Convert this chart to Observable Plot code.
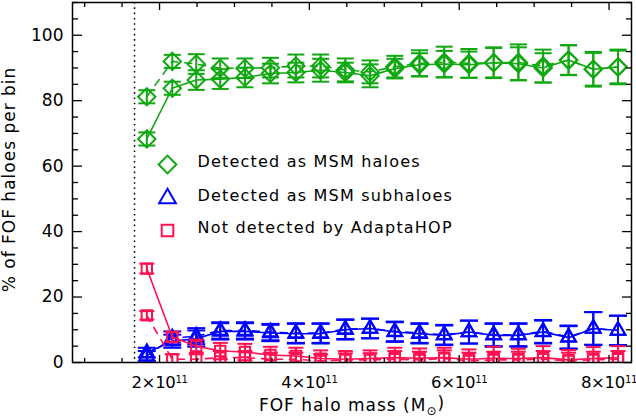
<!DOCTYPE html>
<html><head><meta charset="utf-8">
<script src="https://cdn.jsdelivr.net/npm/d3@7"></script>
<script src="https://cdn.jsdelivr.net/npm/@observablehq/plot@0.6"></script>
<style>
body{margin:0;background:#fff}
#chart svg{display:block}
</style>
</head><body><div id="chart"></div>
<script>
// FOF halo mass, in units of 10^11 Msun
const mass = [1.83, 2.17, 2.49, 2.81, 3.14, 3.48, 3.82, 4.15, 4.48, 4.81, 5.14, 5.47, 5.80, 6.13, 6.46, 6.79, 7.12, 7.46, 7.79, 8.12];

const haloSolid     = [68.3, 83.8, 86.3, 86.6, 87.1, 88.3, 88.6, 89.3, 88.6, 87.6, 89.8, 91.0, 91.2, 91.0, 91.6, 91.3, 90.0, 92.4, 89.6, 90.3];
const haloSolidErr  = [2.0, 2.0, 3.0, 3.0, 3.0, 3.0, 3.0, 3.5, 3.0, 3.5, 3.0, 3.5, 4.0, 4.0, 4.5, 5.0, 4.5, 4.5, 5.0, 5.0];
const haloDashed    = [81.2, 92.0, 91.2, 89.9, 89.9, 90.1, 90.6, 90.6, 89.4, 88.8, 90.4, 91.4, 91.8, 91.4, 91.6, 91.7, 90.6, 92.4, 89.6, 90.3];
const haloDashedErr = [2.0, 2.0, 3.0, 3.0, 3.0, 3.0, 3.5, 3.5, 3.5, 3.5, 3.3, 4.0, 4.7, 4.4, 4.7, 5.5, 5.0, 4.6, 5.3, 5.3];

const subSolid      = [3.0, 6.5, 7.3, 9.5, 9.5, 9.0, 8.8, 8.8, 10.0, 10.4, 9.3, 8.8, 8.3, 9.3, 8.3, 8.3, 9.3, 7.6, 10.4, 9.8];
const subSolidErr   = [1.5, 2.0, 2.5, 2.5, 2.5, 2.5, 3.0, 3.0, 3.0, 3.0, 3.0, 3.0, 3.0, 3.5, 3.5, 3.5, 3.5, 3.5, 5.0, 4.5];
const subDashed     = [2.0, 7.5, 8.0, 9.8, 9.8, 9.3, 9.0, 9.0, 10.2, 10.4, 9.5, 9.0, 8.5, 9.3, 8.5, 8.5, 9.5, 7.8, 10.4, 9.8];
const subDashedErr  = [1.5, 2.0, 2.5, 2.5, 2.5, 2.5, 3.0, 3.0, 3.0, 3.0, 3.0, 3.0, 3.0, 3.5, 3.5, 3.5, 3.5, 3.5, 5.0, 4.5];

const notSolid      = [28.7, 7.8, 5.0, 3.5, 3.2, 2.3, 2.0, 1.2, 1.0, 1.2, 1.5, 1.3, 1.5, 1.0, 1.3, 1.2, 1.5, 0.8, 1.2, 1.5];
const notSolidErr   = [1.5, 1.5, 2.0, 2.5, 2.5, 2.5, 2.5, 2.5, 2.5, 2.5, 3.0, 3.0, 3.0, 3.0, 3.5, 3.0, 3.5, 3.0, 3.5, 3.5];
const notDashed     = [14.4, 1.0, 1.0, 1.5, 1.5, 1.0, 1.0, 0.5, 0.8, 0.8, 1.0, 0.8, 1.2, 0.5, 0.8, 0.8, 1.0, 0.5, 0.8, 1.0];
const notDashedErr  = [1.3, 1.5, 1.5, 2.0, 2.0, 2.0, 2.0, 2.0, 2.0, 2.0, 2.5, 2.5, 2.5, 2.5, 2.5, 2.5, 2.5, 2.5, 2.5, 2.5];

const massCut = 1.666;

const yLabelTicks = [0, 20, 40, 60, 80, 100];
const xLabelTicks = [2, 4, 6, 8];

const legendLabels = ["Detected as MSM haloes", "Detected as MSM subhaloes", "Not detected by AdaptaHOP"];

const GREEN = "#10a810", BLUE = "#0000ff", RED = "#ff1050";

const series = [
  {values: haloSolid,  errors: haloSolidErr,  color: GREEN, symbol: "diamond2",  r: 7.8, cap: 8.5, dash: null},
  {values: haloDashed, errors: haloDashedErr, color: GREEN, symbol: "diamond2",  r: 7.8, cap: 8.5, dash: "7,7"},
  {values: subSolid,   errors: subSolidErr,   color: BLUE,  symbol: "triangle2", r: 7.0, cap: 9,   dash: null},
  {values: subDashed,  errors: subDashedErr,  color: BLUE,  symbol: "triangle2", r: 7.0, cap: 9,   dash: "7,7"},
  {values: notSolid,   errors: notSolidErr,   color: RED,   symbol: "square2",   r: 6.6, cap: 7.5, dash: null},
  {values: notDashed,  errors: notDashedErr,  color: RED,   symbol: "square2",   r: 6.6, cap: 7.5, dash: "7,7"}
];

const legendItems = [
  {label: legendLabels[0], color: GREEN, symbol: "diamond2",  r: 8.0},
  {label: legendLabels[1], color: BLUE,  symbol: "triangle2", r: 8.0},
  {label: legendLabels[2], color: RED,   symbol: "square2",   r: 7.4}
];

// horizontal cap symbol for error bars
const capSymbol = {
  draw(ctx, size) {
    const h = Math.sqrt(size / Math.PI);
    ctx.moveTo(-h, 0);
    ctx.lineTo(h, 0);
  }
};

const FONT = "DejaVu Sans";
const xDomain = [0.838, 8.30];
const yDomain = [0, 110];

const yMinor = d3.range(5, 111, 5).filter(v => v % 20 !== 0);
const xMinor = d3.range(1, 8.3, 0.5).filter(v => v % 2 !== 0);
const noText = () => "";

const marks = [];

// dotted mass-threshold line
marks.push(Plot.ruleX([massCut], {stroke: "black", strokeWidth: 1.5, strokeDasharray: "1.6,3.7"}));

for (const s of series) {
  const rows = mass.map((m, i) => ({m, v: s.values[i], e: s.errors[i]}));
  marks.push(Plot.line(rows, {x: "m", y: "v", stroke: s.color, strokeWidth: 1.6, strokeDasharray: s.dash, clip: true}));
  marks.push(Plot.ruleX(rows, {x: "m", y1: d => d.v - d.e, y2: d => d.v + d.e, stroke: s.color, strokeWidth: 2, clip: true}));
  marks.push(Plot.dot(rows, {x: "m", y: d => d.v + d.e, symbol: capSymbol, r: s.cap, stroke: s.color, strokeWidth: 2, clip: true}));
  marks.push(Plot.dot(rows, {x: "m", y: d => d.v - d.e, symbol: capSymbol, r: s.cap, stroke: s.color, strokeWidth: 2, clip: true}));
  marks.push(Plot.dot(rows, {x: "m", y: "v", symbol: s.symbol, r: s.r, stroke: s.color, fill: "none", strokeWidth: 2, clip: true}));
}

// legend (inside the frame)
const legendTop = [162, 196, 228];
legendItems.forEach((it, i) => {
  marks.push(Plot.dot([it], {frameAnchor: "top-left", dx: 95, dy: legendTop[i], symbol: it.symbol, r: it.r, stroke: it.color, fill: "none", strokeWidth: 2}));
  marks.push(Plot.text([it], {frameAnchor: "top-left", dx: 125, dy: legendTop[i] - 3, text: "label", textAnchor: "start", lineAnchor: "middle", fontSize: 16, fill: "black", className: "legend-text"}));
});

// axes: inward ticks on all four sides
marks.push(
  Plot.axisY({anchor: "left",  ticks: yLabelTicks, tickSize: -10, tickFormat: noText, label: null, strokeWidth: 1.3}),
  Plot.axisY({anchor: "left",  ticks: yMinor,      tickSize: -6,  tickFormat: noText, label: null, strokeWidth: 1.3}),
  Plot.axisY({anchor: "right", ticks: yLabelTicks, tickSize: -10, tickFormat: noText, label: null, strokeWidth: 1.3}),
  Plot.axisY({anchor: "right", ticks: yMinor,      tickSize: -6,  tickFormat: noText, label: null, strokeWidth: 1.3}),
  Plot.axisY({anchor: "left",  ticks: yLabelTicks, tickSize: 0, tickPadding: 9, label: null, fontSize: 17, tickFormat: d => String(d)}),
  Plot.axisX({anchor: "bottom", ticks: xLabelTicks, tickSize: -7, tickFormat: noText, label: null, strokeWidth: 1.3}),
  Plot.axisX({anchor: "bottom", ticks: xMinor,      tickSize: -4, tickFormat: noText, label: null, strokeWidth: 1.3}),
  Plot.axisX({anchor: "top",    ticks: xLabelTicks, tickSize: -7, tickFormat: noText, label: null, strokeWidth: 1.3}),
  Plot.axisX({anchor: "top",    ticks: xMinor,      tickSize: -4, tickFormat: noText, label: null, strokeWidth: 1.3}),
  Plot.axisX({anchor: "bottom", ticks: xLabelTicks, tickSize: 0, tickPadding: 14, label: null, fontSize: 16.5, tickFormat: d => `${d}×10`}),
  Plot.frame({stroke: "black", strokeWidth: 1.5}),
  Plot.text(["% of FOF haloes per bin"], {frameAnchor: "left", dx: -63, dy: -3, rotate: -90, textAnchor: "middle", lineAnchor: "middle", fontSize: 17, fill: "black", className: "wide-title"}),
  Plot.text(["FOF halo mass (M"], {frameAnchor: "bottom", dy: 43, textAnchor: "middle", lineAnchor: "middle", fontSize: 17, fill: "black", className: "wide-title"})
);

const chart = Plot.plot({
  width: 636,
  height: 418,
  marginLeft: 72,
  marginRight: 5,
  marginTop: 2,
  marginBottom: 56,
  style: {fontFamily: FONT, fontSize: "17px", background: "white", color: "black"},
  x: {domain: xDomain},
  y: {domain: yDomain},
  marks
});

// drop the empty label texts of the tick-only axes
chart.querySelectorAll("text").forEach(t => {
  if (t.textContent === "") t.remove();
});

// superscript exponent on x tick labels
chart.querySelectorAll('g[aria-label="x-axis tick label"] text').forEach(t => {
  const sup = document.createElementNS("http://www.w3.org/2000/svg", "tspan");
  sup.setAttribute("dy", "-0.5em");
  sup.setAttribute("font-size", "10");
  sup.textContent = "11";
  t.appendChild(sup);
  t.setAttribute("letter-spacing", "-0.3");
});

// subscript solar symbol in x title
chart.querySelectorAll("text").forEach(t => {
  if (t.textContent === "FOF halo mass (M") {
    const ns = "http://www.w3.org/2000/svg";
    const sub = document.createElementNS(ns, "tspan");
    sub.setAttribute("dy", "0.3em");
    sub.setAttribute("font-size", "12");
    sub.textContent = "⊙";
    const close = document.createElementNS(ns, "tspan");
    close.setAttribute("dy", "-0.3em");
    close.textContent = ")";
    t.appendChild(sub);
    t.appendChild(close);
  }
});

// wider letter spacing for the legend and titles, as in the reference
chart.querySelectorAll(".legend-text text").forEach(t => t.setAttribute("letter-spacing", "1.2"));
chart.querySelectorAll(".wide-title text").forEach(t => t.setAttribute("letter-spacing", "1"));

document.getElementById("chart").appendChild(chart);
</script>
</body></html>
